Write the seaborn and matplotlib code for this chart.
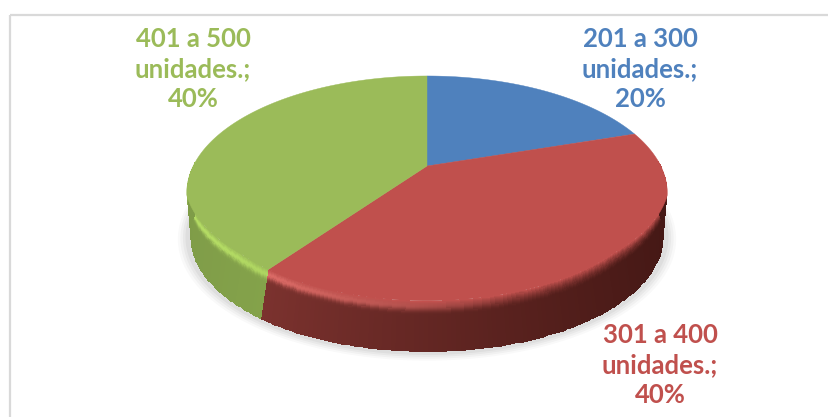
# 3D looking pie of units sold per range
import numpy as np
import seaborn as sns
import matplotlib.pyplot as plt
from matplotlib.colors import to_rgb
from matplotlib.patches import Rectangle

labels = ["201 a 300\nunidades.;", "301 a 400\nunidades.;", "401 a 500\nunidades.;"]
values = [20, 40, 40]
colors = ["#4f81bd", "#c0504d", "#9bbb59"]
side_left = ["#4f81bd", "#8c3a36", "#7f9c48"]
side_right = ["#2c4a70", "#451815", "#93b552"]
highlight = ["#6f9fd8", "#e8736e", "#b4dc64"]

sns.set_theme(style="white")
plt.rcParams['font.family'] = ['Lato', 'DejaVu Sans']

fig = plt.figure(figsize=(8.29, 4.17), dpi=100)
ax = fig.add_axes([0, 0, 1, 1])
wedges, _ = ax.pie(values, startangle=90, counterclock=False, colors=colors)
ax.set_aspect('auto')
ax.set_xlim(0, 829)
ax.set_ylim(417, 0)
ax.axis('off')


# perspective view of the unit circle, the centre lands above the ellipse middle
def project(deg, r=1.0, dy=0.0):
    t = np.radians(deg)
    x, y = r * np.cos(t), r * np.sin(t)
    d = 1 + 0.2308 * y
    return 427 + 233.8 * x / d, 166 + dy - 110.8 * y / d


# the bevel eats into the top face along the front of the pie
def inset(deg):
    return 1 - 0.05 * np.clip((-np.sin(np.radians(deg)) - 0.25) / 0.45, 0, 1)


ax.add_patch(Rectangle((10, 15), 900, 500, fill=False, ec="#d9d9d9", lw=1.6))

# soft shadow under the pie
circle = np.linspace(0, 360, 200)
for grow, alpha in zip([1.035, 1.025, 1.015, 1.005], [0.025, 0.03, 0.035, 0.04]):
    sx, sy = project(circle, r=grow, dy=44)
    ax.fill(sx, sy, color="black", alpha=alpha, lw=0, zorder=1)

depth = np.linspace(0, 1, 50)
for w, left, right, hi, top in zip(wedges, side_left, side_right, highlight, colors):
    a, b = sorted([w.theta1, w.theta2])
    t = np.linspace(a, b, 160)
    r_in = inset(t)

    # side wall and bevel, only the part facing the viewer
    front = np.sin(np.radians(t)) < 0.05
    if front.any():
        tf = t[front]
        x0, y0 = project(tf, r=r_in[front])
        x1, y1 = project(tf, r=0.985, dy=44.5)
        X = np.array([x0 + (x1 - x0) * d for d in depth])
        Y = np.array([y0 + (y1 - y0) * d for d in depth])
        frac = np.clip((x0 - 187) / 480, 0, 1)
        c1, c2, c3, c4 = [np.array(to_rgb(v)) for v in (left, right, hi, top)]
        wall = c1 + (c2 - c1) * frac[:, None] ** 0.8
        C = np.zeros((len(depth), len(tf), 3))
        for i, d in enumerate(depth):
            fade = np.clip(1 - d / 0.26, 0, 1) ** 1.5
            bump = np.exp(-((d - 0.1) / 0.08) ** 2) * np.clip(1.1 - frac * 1.6, 0, 1)
            shade = wall + (c4 - wall) * fade
            C[i] = shade + (c3 - shade) * bump[:, None]
        ax.pcolormesh(X, Y, C[:-1, :-1], shading='flat', zorder=2, lw=0, rasterized=True)

    # top face from the wedge angles
    px, py = project(t, r=r_in)
    ax.fill(np.r_[427, px], np.r_[166, py], color=top, lw=0.3, zorder=3)
    w.remove()

text_pos = [(640, 69), (660, 365), (193, 69)]
for name, val, col, (tx, ty) in zip(labels, values, colors, text_pos):
    ax.text(tx, ty, f"{name}\n{val}%", color=col, fontsize=18.5, fontweight='bold',
            ha='center', va='center', linespacing=1.32, zorder=5)

fig.savefig("out.png", dpi=100)
